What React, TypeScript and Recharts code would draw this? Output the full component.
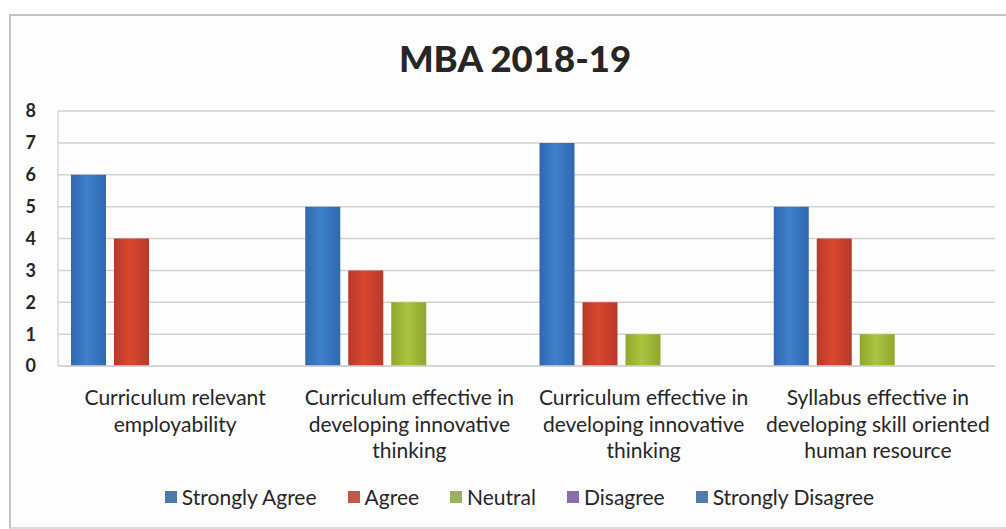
import React from "react";
import { BarChart, Bar, XAxis, YAxis, CartesianGrid, Legend } from "recharts";

const title = "MBA 2018-19";
const categories = [
  "Curriculum relevant employability",
  "Curriculum effective in developing innovative thinking",
  "Curriculum effective in developing innovative thinking",
  "Syllabus effective in developing skill oriented human resource",
];
const categoryLines = [
  ["Curriculum relevant", "employability"],
  ["Curriculum effective in", "developing innovative", "thinking"],
  ["Curriculum effective in", "developing innovative", "thinking"],
  ["Syllabus effective in", "developing skill oriented", "human resource"],
];
const seriesNames = ["Strongly Agree", "Agree", "Neutral", "Disagree", "Strongly Disagree"];
const stronglyAgree = [6, 5, 7, 5];
const agree = [4, 3, 2, 4];
const neutral = [0, 2, 1, 1];
const disagree = [0, 0, 0, 0];
const stronglyDisagree = [0, 0, 0, 0];
const yTicks = [0, 1, 2, 3, 4, 5, 6, 7, 8];

const barColors = [
  ["#2f68b0", "#3f80cc"],
  ["#b8392a", "#d9472f"],
  ["#8ea72e", "#acc440"],
  ["#6a4f8c", "#8064a2"],
  ["#3b8aa3", "#4bacc6"],
];
const legendColors = ["#4a7bab", "#c0594a", "#9bb05c", "#8a6cb0", "#4f7daf"];

const seriesValues = [stronglyAgree, agree, neutral, disagree, stronglyDisagree];
const keys = ["s0", "s1", "s2", "s3", "s4"];

const data = categories.map((c, i) => {
  const row: Record<string, any> = { name: c, idx: i };
  seriesValues.forEach((vals, s) => {
    row[keys[s]] = vals[i];
  });
  return row;
});

const FONT = "Lato, 'Open Sans', sans-serif";

const XTick = (props: any) => {
  const { x, y, payload } = props;
  const lines = categoryLines[payload.index] || [String(payload.value)];
  return (
    <g>
      {lines.map((l: string, i: number) => (
        <text
          key={i}
          x={x}
          y={y + 39 + i * 26.5}
          textAnchor="middle"
          fontSize={21}
          fontFamily={FONT}
          fill="#262626"
        >
          {l}
        </text>
      ))}
    </g>
  );
};

const LegendContent = () => (
  <div
    style={{
      display: "flex",
      justifyContent: "center",
      alignItems: "center",
      fontFamily: FONT,
      fontSize: 21,
      color: "#262626",
      paddingLeft: 33,
    }}
  >
    {seriesNames.map((n, i) => (
      <div key={n} style={{ display: "flex", alignItems: "center", marginLeft: i === 0 ? 0 : 31 }}>
        <span
          style={{
            display: "inline-block",
            width: 12,
            height: 12,
            background: legendColors[i],
            marginRight: 5,
          }}
        />
        <span>{n}</span>
      </div>
    ))}
  </div>
);

export default function App() {
  return (
    <div
      style={{
        position: "absolute",
        left: 0,
        top: 0,
        width: 1006,
        height: 529,
        overflow: "hidden",
        background: "#ffffff",
      }}
    >
      <div
        style={{
          position: "absolute",
          left: 9,
          top: 14,
          width: 997,
          height: 511,
          borderLeft: "2px solid #c4c4c4",
          borderTop: "2px solid #c4c4c4",
          borderBottom: "2px solid #dcdcdc",
          background: "#fdfdfd",
        }}
      />
      <div style={{ position: "absolute", left: 0, top: 0 }}>
        <BarChart
          width={1006}
          height={529}
          data={data}
          margin={{ top: 111, right: 11, bottom: 0, left: 0 }}
          barCategoryGap={13}
          barGap={8}
        >
          <defs>
            {barColors.map((c, i) => (
              <linearGradient key={i} id={`g${i}`} x1="0" y1="0" x2="1" y2="0">
                <stop offset="0%" stopColor={c[0]} />
                <stop offset="45%" stopColor={c[1]} />
                <stop offset="100%" stopColor={c[0]} />
              </linearGradient>
            ))}
          </defs>
          <text
            x={515}
            y={72}
            textAnchor="middle"
            fontSize={36.5}
            fontWeight={900}
            fontFamily={FONT}
            fill="#262626"
          >
            {title}
          </text>
          <CartesianGrid vertical={false} stroke="#d2d2d2" strokeWidth={1.5} />
          <XAxis
            dataKey="idx"
            height={163}
            tick={<XTick />}
            tickLine={false}
            tickSize={0}
            tickMargin={0}
            axisLine={{ stroke: "#d2d2d2", strokeWidth: 1.5 }}
            interval={0}
          />
          <YAxis
            width={58}
            domain={[0, 8]}
            ticks={yTicks}
            interval={0}
            tickLine={false}
            tickSize={0}
            tickMargin={22}
            axisLine={{ stroke: "#d8d8d8", strokeWidth: 1.5 }}
            tick={{ fontSize: 18, fontFamily: FONT, fill: "#262626", fontWeight: 700 }}
          />
          <Legend
            layout="horizontal"
            verticalAlign="middle"
            align="center"
            content={<LegendContent />}
            wrapperStyle={{ top: 484, left: 0, width: 1006 }}
          />
          {keys.map((k, i) => (
            <Bar
              key={k}
              dataKey={k}
              name={seriesNames[i]}
              fill={`url(#g${i})`}
              isAnimationActive={false}
            />
          ))}
        </BarChart>
      </div>
    </div>
  );
}
